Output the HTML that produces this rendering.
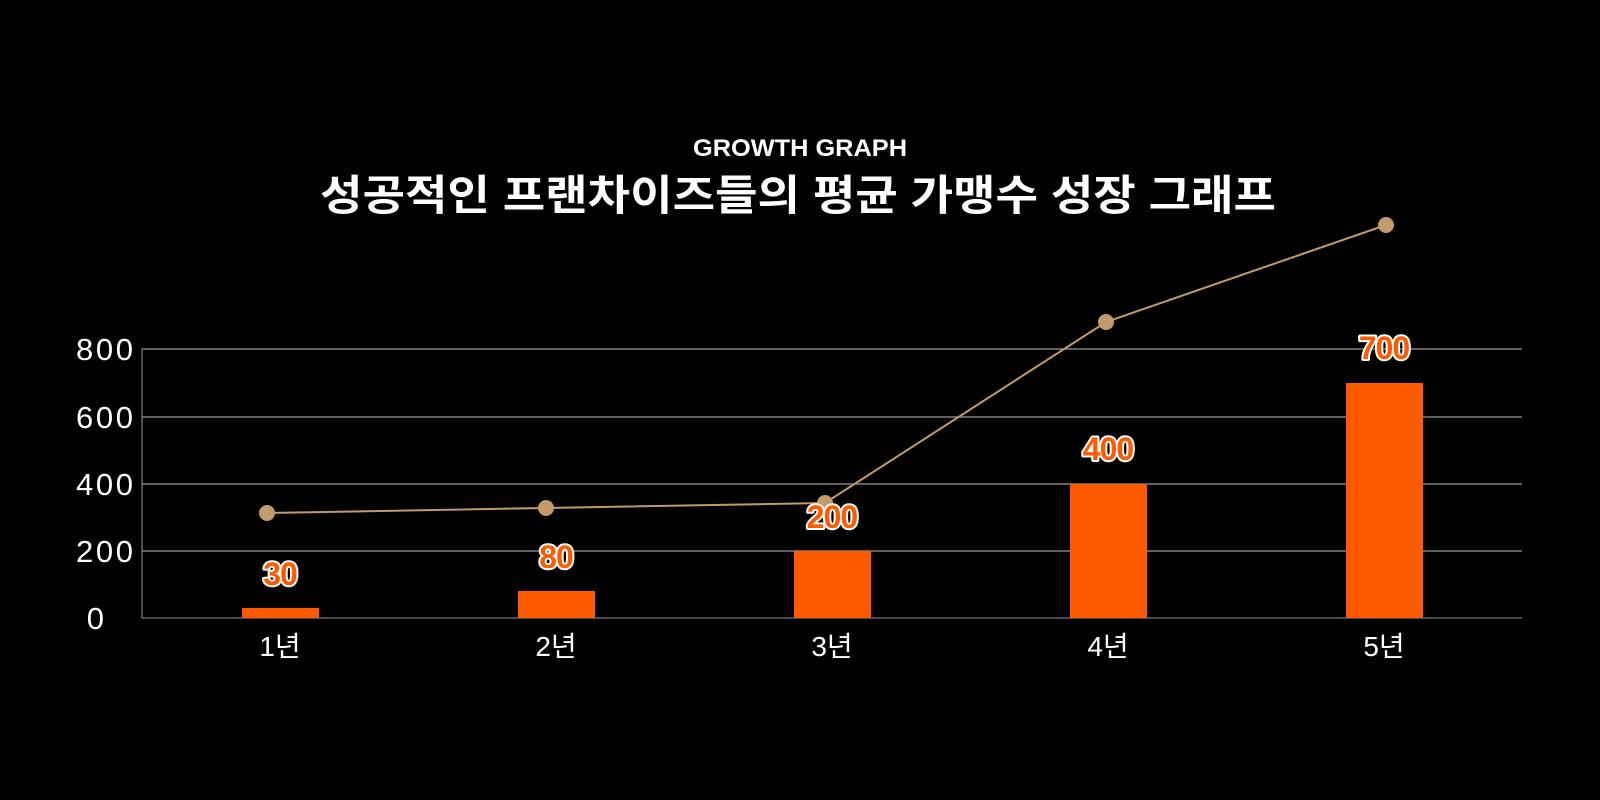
<!DOCTYPE html>
<html><head><meta charset="utf-8"><style>
html,body{margin:0;padding:0;background:#000;}
body{width:1600px;height:800px;overflow:hidden;}
</style></head><body>
<svg width="1600" height="800" xmlns="http://www.w3.org/2000/svg" style="display:block">
<rect width="1600" height="800" fill="#000"/>
<g font-family="Liberation Sans, Noto Sans CJK KR, sans-serif" fill="#fff" text-anchor="middle">
<text x="800" y="156" font-size="24" font-weight="bold" textLength="214" lengthAdjust="spacingAndGlyphs">GROWTH GRAPH</text>
<text x="798" y="210" font-size="42" font-weight="bold" textLength="956" lengthAdjust="spacingAndGlyphs">성공적인 프랜차이즈들의 평균 가맹수 성장 그래프</text>
</g>
<g stroke="#9a9a9a" stroke-width="1.3">
<line x1="142" y1="349" x2="1522" y2="349"/>
<line x1="142" y1="417" x2="1522" y2="417"/>
<line x1="142" y1="484" x2="1522" y2="484"/>
<line x1="142" y1="551" x2="1522" y2="551"/>
<line x1="142" y1="618" x2="1522" y2="618" stroke="#777"/>
<line x1="142" y1="349" x2="142" y2="618" stroke="#777"/>
</g>
<g font-family="Liberation Sans, sans-serif" fill="#fff" font-size="31" text-anchor="end">
<text x="133" y="360" textLength="57">800</text>
<text x="133" y="428" textLength="57">600</text>
<text x="133" y="495" textLength="57">400</text>
<text x="133" y="562" textLength="57">200</text>
<text x="104" y="629">0</text>
</g>
<g fill="#ff5a00">
<rect x="242" y="608" width="77" height="10"/>
<rect x="518" y="591" width="77" height="27"/>
<rect x="794" y="551" width="77" height="67"/>
<rect x="1070" y="484" width="77" height="134"/>
<rect x="1346" y="383" width="77" height="235"/>
</g>
<polyline points="267,513 546,508 825,503 1106,322 1386,225" fill="none" stroke="#c29a6b" stroke-width="2"/>
<g fill="#c29a6b">
<circle cx="267" cy="513" r="8"/><circle cx="546" cy="508" r="8"/><circle cx="825" cy="503" r="8"/><circle cx="1106" cy="322" r="8"/><circle cx="1386" cy="225" r="8"/>
</g>
<g font-family="Liberation Sans, sans-serif" font-size="32" font-weight="bold" text-anchor="middle" fill="#ff5a00" stroke="#fff" stroke-width="4" paint-order="stroke" stroke-linejoin="round" letter-spacing="-1">
<text x="280" y="585">30</text>
<text x="556" y="568">80</text>
<text x="832" y="528">200</text>
<text x="1108" y="460">400</text>
<text x="1384" y="359">700</text>
</g>
<g font-family="Liberation Sans, Noto Sans CJK KR, sans-serif" fill="#fff" font-size="28" text-anchor="middle">
<text x="280" y="656">1년</text>
<text x="556" y="656">2년</text>
<text x="832" y="656">3년</text>
<text x="1108" y="656">4년</text>
<text x="1384" y="656">5년</text>
</g>
</svg>
</body></html>
